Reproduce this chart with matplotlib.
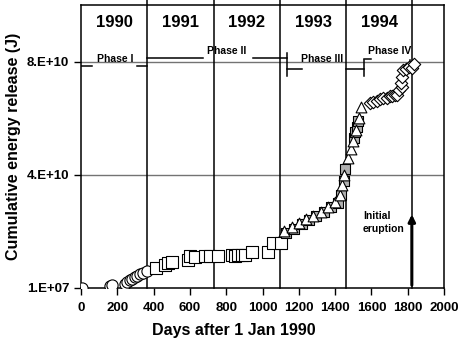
'''
    Cumulative energy release, 1990-1994
'''
import matplotlib
matplotlib.use('Agg')
import matplotlib.pyplot as plt

# year boundaries (days after 1 Jan 1990)
year_edges = [0, 365, 730, 1096, 1461, 1826]
year_labels = ['1990', '1991', '1992', '1993', '1994']

# phase I - circles
p1_days = [5, 160, 172, 240, 255, 268, 280, 295, 310, 325, 340, 362]
p1_energy = [0.01e9, 0.7e9, 1.0e9, 1.4e9, 2.1e9, 2.8e9, 3.3e9, 3.9e9, 4.4e9, 4.9e9, 5.4e9, 5.9e9]

# phase II - squares
p2_days = [413, 463, 480, 500, 590, 600, 628, 683, 711, 755, 832, 850, 866, 885, 903, 942, 1030, 1058, 1102]
p2_energy = [7.0e9, 8.1e9, 8.8e9, 9.1e9, 10.0e9, 11.2e9, 10.9e9, 11.2e9, 11.2e9, 11.2e9, 11.6e9,
             11.4e9, 11.6e9, 11.7e9, 11.8e9, 12.8e9, 12.6e9, 15.8e9, 15.8e9]

# phase III - triangles (white) and shaded squares
p3_tri_days = [1118, 1160, 1200, 1240, 1280, 1320, 1360, 1400, 1425, 1440, 1450, 1470, 1490, 1500, 1515, 1530, 1545]
p3_tri_energy = [20e9, 21.5e9, 23e9, 24.5e9, 25.5e9, 27e9, 28.5e9, 30.5e9, 33e9, 36.5e9, 40e9,
                 46e9, 49e9, 52e9, 56e9, 60e9, 64e9]
p3_sq_days = [1130, 1175, 1215, 1255, 1295, 1340, 1380, 1415, 1435, 1447, 1455, 1505, 1512, 1520, 1527]
p3_sq_energy = [19.5e9, 21e9, 22.5e9, 24e9, 25.5e9, 27e9, 28.5e9, 30e9, 33e9, 38e9, 42e9,
                53e9, 55e9, 57e9, 59e9]

# phase IV - diamonds
p4_days = [1590, 1609, 1631, 1647, 1665, 1686, 1700, 1713, 1730, 1741, 1755, 1769, 1763, 1769, 1774, 1790, 1805, 1823, 1834]
p4_energy = [65.5e9, 65.6e9, 66e9, 66.7e9, 67.2e9, 67e9, 67.8e9, 68e9, 68.2e9, 68.4e9, 70e9, 71.2e9,
             72.6e9, 74.7e9, 77.2e9, 77.5e9, 78.2e9, 77.9e9, 79.3e9]

# phases: (start, end, label)
phases = [(0, 365, 'Phase I'), (365, 1135, 'Phase II'), (1135, 1559, 'Phase III'), (1559, 1826, 'Phase IV')]
eruption_day = 1823

plt.rcParams['font.family'] = ['Liberation Sans', 'DejaVu Sans']
plt.rcParams['font.weight'] = 'bold'

fig = plt.figure(figsize=(4.61, 3.42), dpi=100)
ax = fig.add_axes([0.176, 0.158, 0.787, 0.827])

ax.set_xlim(0, 2000)
ax.set_ylim(1e7, 1e11)

# grid
for e in [4e10, 8e10]:
    ax.axhline(e, color='0.45', lw=1, zorder=1)
for d in year_edges[1:]:
    ax.axvline(d, ymin=0, ymax=1.02, color='black', lw=1.1, clip_on=False, zorder=1)

# year labels
for i, lab in enumerate(year_labels):
    mid = (year_edges[i] + year_edges[i + 1]) / 2
    ax.text(mid, 9.37e10, lab, ha='center', va='center', fontsize=12, fontweight='bold')

# phase bars
lk = dict(color='black', lw=1.1, zorder=2)
fs = 7.5
ax.plot([0, 60], [7.86e10, 7.86e10], **lk)
ax.plot([310, 365], [7.86e10, 7.86e10], **lk)
ax.text(185, 8.1e10, phases[0][2], ha='center', va='center', fontsize=fs, fontweight='bold')
ax.plot([365, 670], [8.13e10, 8.13e10], **lk)
ax.plot([948, 1135], [8.13e10, 8.13e10], **lk)
ax.text(800, 8.38e10, phases[1][2], ha='center', va='center', fontsize=fs, fontweight='bold')
ax.plot([1135, 1135], [7.5e10, 8.3e10], **lk)
ax.plot([1135, 1215], [7.75e10, 7.75e10], **lk)
ax.plot([1460, 1559], [7.75e10, 7.75e10], **lk)
ax.plot([1559, 1559], [7.5e10, 8.07e10], **lk)
ax.text(1330, 8.1e10, phases[2][2], ha='center', va='center', fontsize=fs, fontweight='bold')
ax.plot([1559, 1600], [8.1e10, 8.1e10], **lk)
ax.text(1702, 8.38e10, phases[3][2], ha='center', va='center', fontsize=fs, fontweight='bold')
ax.plot([1813, 1813], [7.9e10, 8.07e10], **lk)

# data
mk = dict(edgecolors='black', linewidths=0.8, zorder=3)
ax.scatter(p1_days, p1_energy, marker='o', s=65, c='white', **mk)
ax.scatter(p2_days, p2_energy, marker='s', s=65, c='white', **mk)
ax.scatter(p3_sq_days, p3_sq_energy, marker='s', s=45, c='#b0b0b0', **mk)
ax.scatter(p3_tri_days, p3_tri_energy, marker='^', s=60, c='white', **mk)
ax.scatter(p4_days, p4_energy, marker='D', s=40, c='white', **mk)

# initial eruption arrow
ax.annotate('', xy=(eruption_day, 2.7e10), xytext=(eruption_day, 1e7),
            arrowprops=dict(arrowstyle='-|>', color='black', lw=2.2, mutation_scale=10))
ax.text(1554, 2.72e10, 'Initial\neruption', ha='left', va='top', fontsize=fs, fontweight='bold',
        linespacing=1.4)

ax.set_xticks(range(0, 2001, 200))
ax.set_yticks([1e7, 4e10, 8e10])
ax.set_yticklabels(['1.E+07', '4.E+10', '8.E+10'])
ax.tick_params(direction='out', length=5, width=1, labelsize=9.5)
ax.tick_params(axis='x', pad=5)
for lab in ax.get_xticklabels() + ax.get_yticklabels():
    lab.set_fontweight('bold')
for s in ax.spines.values():
    s.set_linewidth(1.1)

ax.set_xlabel('Days after 1 Jan 1990', fontsize=11.5, fontweight='bold')
ax.xaxis.set_label_coords(0.42, -0.125)
ax.xaxis.label.set_va('top')
ax.set_ylabel('Cumulative energy release (J)', fontsize=11.5, fontweight='bold', labelpad=4)

fig.savefig('out.png', dpi=100)
